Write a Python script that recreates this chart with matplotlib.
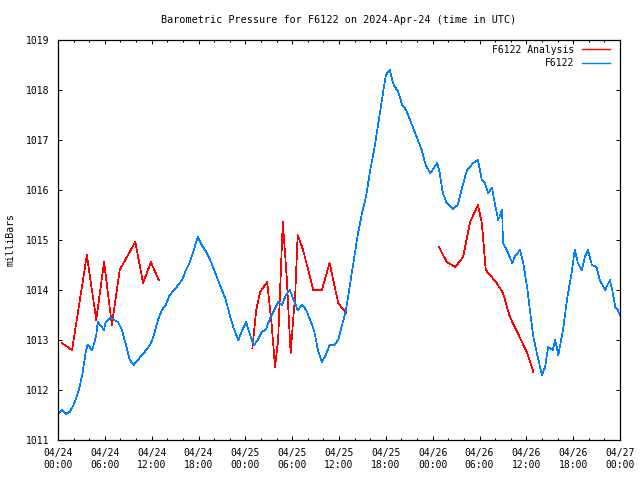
import matplotlib
matplotlib.use("Agg")
import matplotlib.pyplot as plt
import matplotlib.dates as mdates
from datetime import datetime, timedelta

# hours since 2024-04-24 00:00 UTC, pressure in mbar
obs_hours = [0.0, 0.5, 1.0, 1.5, 2.0, 2.6, 3.1, 3.6, 3.8, 4.4, 4.9, 5.1, 5.4, 5.9, 6.1, 6.7, 7.2, 7.7,
             8.2, 8.7, 9.2, 9.7, 10.2, 10.8, 11.3, 11.8, 12.3, 12.8, 13.3, 13.8, 14.3, 14.9, 15.4, 15.9,
             16.4, 16.9, 17.4, 17.9, 18.4, 19.0, 19.5, 20.0, 20.5, 21.0, 21.5, 22.0, 22.5, 23.1, 23.6,
             24.1, 24.6, 25.1, 25.6, 26.1, 26.6, 27.2, 27.7, 28.2, 28.7, 29.2, 29.7, 30.2, 30.7, 31.3,
             31.8, 32.3, 32.8, 33.3, 33.8, 34.3, 34.8, 35.4, 35.9, 36.4, 36.9, 37.4, 37.9, 38.4, 38.9,
             39.5, 40.0, 40.5, 41.0, 41.5, 42.0, 42.5, 43.0, 43.6, 44.1, 44.6, 45.1, 45.6, 46.1, 46.6,
             47.1, 47.7, 48.6, 48.9, 49.3, 49.8, 50.6, 51.2, 51.8, 52.4, 53.2, 53.8, 54.3, 54.7, 55.1,
             55.6, 56.0, 56.4, 56.9, 57.0, 57.5, 58.2, 58.5, 59.2, 59.6, 60.1, 60.5, 60.9, 61.4, 62.0,
             62.4, 62.8, 63.4, 63.7, 64.1, 64.7, 65.2, 65.8, 66.2, 66.6, 67.1, 67.5, 67.9, 68.4, 69.0,
             69.4, 70.1, 70.7, 71.0, 71.4, 71.7, 72.0]
obs_mbar = [1011.52, 1011.60, 1011.52, 1011.56, 1011.70, 1011.96, 1012.30, 1012.80, 1012.90, 1012.80,
            1013.10, 1013.36, 1013.30, 1013.20, 1013.36, 1013.44, 1013.40, 1013.36, 1013.20, 1012.90,
            1012.60, 1012.50, 1012.60, 1012.70, 1012.80, 1012.90, 1013.10, 1013.40, 1013.60, 1013.70,
            1013.90, 1014.00, 1014.10, 1014.20, 1014.40, 1014.56, 1014.80, 1015.06, 1014.90, 1014.76,
            1014.60, 1014.40, 1014.20, 1014.00, 1013.80, 1013.50, 1013.24, 1013.00, 1013.20, 1013.36,
            1013.10, 1012.90, 1013.00, 1013.16, 1013.20, 1013.44, 1013.60, 1013.76, 1013.70, 1013.90,
            1014.00, 1013.80, 1013.60, 1013.70, 1013.60, 1013.40, 1013.20, 1012.80, 1012.56, 1012.70,
            1012.90, 1012.90, 1013.00, 1013.30, 1013.60, 1014.10, 1014.60, 1015.10, 1015.50, 1015.90,
            1016.40, 1016.80, 1017.30, 1017.80, 1018.30, 1018.40, 1018.10, 1017.96, 1017.70, 1017.60,
            1017.40, 1017.20, 1017.00, 1016.80, 1016.50, 1016.34, 1016.54, 1016.34, 1015.94, 1015.74,
            1015.62, 1015.70, 1016.06, 1016.40, 1016.54, 1016.60, 1016.20, 1016.14, 1015.94, 1016.04,
            1015.70, 1015.40, 1015.60, 1014.94, 1014.80, 1014.54, 1014.66, 1014.80, 1014.54, 1014.06,
            1013.54, 1013.06, 1012.70, 1012.30, 1012.46, 1012.86, 1012.80, 1013.00, 1012.70, 1013.20,
            1013.80, 1014.34, 1014.80, 1014.54, 1014.40, 1014.66, 1014.80, 1014.50, 1014.46, 1014.20,
            1014.00, 1014.20, 1014.00, 1013.66, 1013.60, 1013.50]

# analysis comes in three separate runs
ana1_hours = [0.5, 1.8, 3.7, 4.9, 5.9, 6.9, 7.9, 9.9, 10.9, 11.9, 12.9]
ana1_mbar = [1012.94, 1012.80, 1014.70, 1013.40, 1014.56, 1013.30, 1014.40, 1014.96, 1014.14, 1014.56, 1014.20]
ana2_hours = [24.9, 25.4, 25.9, 26.8, 27.4, 27.8, 28.2, 28.8, 29.3, 29.8, 30.4, 30.7, 31.4, 32.7, 33.8,
              34.8, 35.9, 36.9]
ana2_mbar = [1012.84, 1013.60, 1013.96, 1014.16, 1013.26, 1012.46, 1013.00, 1015.36, 1014.26, 1012.74,
             1013.94, 1015.10, 1014.80, 1014.00, 1014.00, 1014.54, 1013.74, 1013.54]
ana3_hours = [48.8, 49.8, 50.9, 51.9, 52.8, 53.8, 54.3, 54.8, 56.2, 57.0, 57.9, 58.9, 60.1, 60.9]
ana3_mbar = [1014.86, 1014.56, 1014.46, 1014.66, 1015.36, 1015.70, 1015.34, 1014.40, 1014.14, 1013.94,
             1013.46, 1013.14, 1012.74, 1012.36]

start = datetime(2024, 4, 24)


def to_time(hours):
    return [start + timedelta(hours=h) for h in hours]


plt.rcParams['font.family'] = 'DejaVu Sans Mono'
plt.rcParams['font.size'] = 7

fig = plt.figure(figsize=(6.4, 4.8), dpi=100)
ax = fig.add_axes([58 / 640, 40 / 480, 562 / 640, 400 / 480])

red = '#ff0000'
blue = '#0080ff'
lw = 0.5
ax.plot(to_time(ana1_hours), ana1_mbar, color=red, lw=lw, label='F6122 Analysis', antialiased=False)
ax.plot(to_time(ana2_hours), ana2_mbar, color=red, lw=lw, antialiased=False)
ax.plot(to_time(ana3_hours), ana3_mbar, color=red, lw=lw, antialiased=False)
ax.plot(to_time(obs_hours), obs_mbar, color=blue, lw=lw, label='F6122', antialiased=False)

ax.set_xlim(start, start + timedelta(hours=72))
ax.set_ylim(1011, 1019)
ax.set_yticks(range(1011, 1020))
ax.xaxis.set_major_locator(mdates.HourLocator(byhour=[0, 6, 12, 18]))
ax.xaxis.set_minor_locator(mdates.HourLocator(byhour=range(0, 24, 2)))
ax.xaxis.set_major_formatter(mdates.DateFormatter('%m/%d\n%H:%M'))

ax.tick_params(which='both', direction='in', top=True, right=True, color='black', width=0.72)
ax.tick_params(which='major', length=3.2, pad=6)
ax.tick_params(which='minor', length=1.6)
for s in ax.spines.values():
    s.set_linewidth(0.9)

ax.set_ylabel('milliBars', labelpad=8)
ax.set_title('Barometric Pressure for F6122 on 2024-Apr-24 (time in UTC)', fontsize=7.3, pad=12)

leg = ax.legend(loc='upper right', bbox_to_anchor=(0.991, 1.0), frameon=False, markerfirst=False,
                handlelength=2.9, handletextpad=0.8, labelspacing=0.35, borderpad=0.3,
                borderaxespad=0.2)
for h in leg.get_lines():
    h.set_linewidth(1.0)

fig.savefig('out.png', dpi=100)
